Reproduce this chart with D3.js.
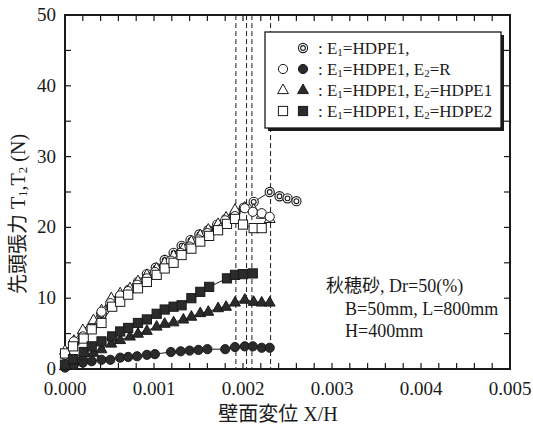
<!DOCTYPE html>
<html><head><meta charset="utf-8">
<script src="https://cdn.jsdelivr.net/npm/d3@7"></script>
<style>
body{margin:0;background:#fff}
svg{display:block}
text{font-family:"Liberation Serif","Times New Roman","Noto Sans CJK JP",serif;fill:#1a1a1a}
</style>
</head><body>
<svg id="chart" width="533" height="426"></svg>
<script>
// Axis ticks
const xMajorTicks = [0, 0.001, 0.002, 0.003, 0.004, 0.005];
const xTickLabels = ["0.000", "0.001", "0.002", "0.003", "0.004", "0.005"];
const xMinorTicks = [0.0002,0.0004,0.0006,0.0008,0.0012,0.0014,0.0016,0.0018,0.0022,0.0024,0.0026,0.0028,0.0032,0.0034,0.0036,0.0038,0.0042,0.0044,0.0046,0.0048];
const yMajorTicks = [0, 10, 20, 30, 40, 50];
const yMinorTicks = [5, 15, 25, 35, 45];

// E1=HDPE1 alone (T1)
const xSingle = [0,0.0001,0.0002,0.00031,0.00041,0.00051,0.00062,0.00072,0.00082,0.00092,0.00102,0.00112,0.00122,0.00131,0.00141,0.00151,0.00161,0.00171,0.00181,0.00191,0.00201,0.00212,0.0023,0.00241,0.0025,0.0026];
const tSingle = [2.0,3.6,5.0,6.2,7.6,9.0,10.3,11.2,12.3,13.4,14.3,15.4,16.4,17.4,18.2,19.0,19.6,20.4,21.2,22.0,22.8,23.6,25.0,24.4,24.1,23.7];

// E1=HDPE1, E2=R
const xR  = [0,0.0001,0.0002,0.0003,0.00041,0.00051,0.00062,0.00071,0.00081,0.00092,0.00101,0.00119,0.0013,0.0014,0.0015,0.0016,0.0018,0.00191,0.00202,0.00211,0.00221,0.0023];
const t1R = [2.0,3.9,4.6,5.7,8.1,9.3,10.4,11.0,11.9,12.8,13.7,15.3,16.4,17.3,18.3,19.2,21.0,21.6,22.7,22.2,22.0,21.5];
const t2R = [0.2,0.6,0.9,1.1,1.3,1.3,1.6,1.7,1.8,2.0,2.1,2.4,2.5,2.6,2.7,2.8,2.8,3.1,3.2,3.2,3.0,3.0];

// E1=HDPE1, E2=HDPE1
const xH1  = [0,0.0001,0.0002,0.00032,0.00041,0.00052,0.00062,0.00073,0.00082,0.00092,0.00103,0.00112,0.00122,0.00133,0.00142,0.00152,0.00161,0.00172,0.00181,0.00191,0.00202,0.00212,0.00221,0.0023];
const t1H1 = [2.6,4.0,5.5,6.9,8.3,10.0,10.7,11.4,12.4,13.3,14.2,15.0,16.0,17.0,18.0,18.9,19.7,20.5,21.4,22.5,22.8,22.5,21.8,21.2];
const t2H1 = [0.4,1.2,1.8,2.3,2.8,3.6,4.1,4.6,5.0,5.4,6.0,6.4,6.6,7.0,7.4,7.9,8.1,8.6,8.8,9.4,9.8,9.5,9.4,9.4];

// E1=HDPE1, E2=HDPE2
const xH2a = [0,0.00009,0.00021,0.0003,0.00041,0.00053,0.00062,0.00071,0.00082,0.00092,0.00103,0.00112,0.00122,0.00131,0.00142,0.00152,0.00162,0.00172,0.00182,0.00191,0.002,0.00212,0.00221];
const t1H2 = [2.2,3.2,4.3,5.6,6.5,8.8,9.5,10.5,11.4,12.3,13.3,14.2,15.0,16.1,17.0,18.0,18.8,19.6,20.5,21.2,20.4,19.9,19.9];
const xH2b = [0,0.00009,0.00021,0.0003,0.00041,0.00053,0.00062,0.00071,0.00082,0.00092,0.00103,0.00112,0.00122,0.00131,0.00142,0.00152,0.00162,0.00182,0.00191,0.002,0.00211];
const t2H2 = [0.6,1.4,2.4,3.2,3.9,4.6,5.3,5.8,6.5,7.0,7.8,8.4,8.8,9.0,10.0,10.9,11.6,12.8,13.3,13.4,13.5];

// Peak displacement markers
const peakX = [0.00192, 0.00204, 0.0021, 0.00231];

// legend pieces: odd entries are subscripts
const legendLabels = [
  [": E", "1", "=HDPE1,"],
  [": E", "1", "=HDPE1, E", "2", "=R"],
  [": E", "1", "=HDPE1, E", "2", "=HDPE1"],
  [": E", "1", "=HDPE1, E", "2", "=HDPE2"]
];
const yTitleParts = ["先頭張力 T", "1", ",T", "2", " (N)"];
const noteLines = ["秋穂砂, Dr=50(%)", "B=50mm, L=800mm", "H=400mm"];

const svg = d3.select("#chart");
const plotL = 65, plotR = 510, plotT = 15, plotB = 369;
const x = d3.scaleLinear().domain([0, 0.005]).range([plotL, plotR]);
const y = d3.scaleLinear().domain([0, 50]).range([plotB, plotT]);
const ink = "#1a1a1a";

// peak dashed lines
svg.append("g").selectAll("line").data(peakX).join("line")
  .attr("x1", d => x(d)).attr("x2", d => x(d))
  .attr("y1", plotT).attr("y2", plotB)
  .attr("stroke", ink).attr("stroke-width", 1).attr("stroke-dasharray", "5,3");

// ticks (inward on all four sides)
const tk = 6;
const tg = svg.append("g").attr("stroke", ink).attr("stroke-width", 1.2);
[...xMajorTicks, ...xMinorTicks].forEach(v => {
  tg.append("line").attr("x1", x(v)).attr("x2", x(v)).attr("y1", plotB).attr("y2", plotB - tk);
  tg.append("line").attr("x1", x(v)).attr("x2", x(v)).attr("y1", plotT).attr("y2", plotT + tk);
});
[...yMajorTicks, ...yMinorTicks].forEach(v => {
  tg.append("line").attr("y1", y(v)).attr("y2", y(v)).attr("x1", plotL).attr("x2", plotL + tk);
  tg.append("line").attr("y1", y(v)).attr("y2", y(v)).attr("x1", plotR).attr("x2", plotR - tk);
});

// frame
svg.append("rect").attr("x", plotL).attr("y", plotT).attr("width", plotR - plotL).attr("height", plotB - plotT)
  .attr("fill", "none").attr("stroke", ink).attr("stroke-width", 2);

// tick labels
svg.append("g").selectAll("text").data(xMajorTicks).join("text")
  .attr("x", d => x(d)).attr("y", plotB + 26).attr("text-anchor", "middle")
  .attr("font-size", 19).text((d, i) => xTickLabels[i]);
svg.append("g").selectAll("text").data(yMajorTicks).join("text")
  .attr("x", plotL - 9).attr("y", d => y(d) + 6).attr("text-anchor", "end")
  .attr("font-size", 19).text(d => d);

// text with lowered subscripts at odd positions
function subText(t, parts, subSize, drop) {
  parts.forEach((s, j) => {
    const sp = t.append("tspan").text(s);
    if (j % 2 === 1) sp.attr("font-size", subSize).attr("dy", drop);
    else if (j > 0) sp.attr("dy", -drop);
  });
}

// axis titles
svg.append("text").attr("x", 278).attr("y", 421).attr("text-anchor", "middle")
  .attr("font-size", 20).text("壁面変位 X/H");
const yt = svg.append("text").attr("transform", "translate(25,214) rotate(-90)")
  .attr("text-anchor", "middle").attr("font-size", 20);
subText(yt, yTitleParts, 13, 2);

// marker shapes
function marker(g, kind, filled) {
  const fill = filled ? "#2b2b2b" : "#fff";
  if (kind === "circle") {
    g.append("circle").attr("r", 4.6).attr("fill", fill).attr("stroke", ink).attr("stroke-width", 1);
  } else if (kind === "square") {
    g.append("rect").attr("x", -4.6).attr("y", -4.6).attr("width", 9.2).attr("height", 9.2)
      .attr("fill", fill).attr("stroke", ink).attr("stroke-width", 1);
  } else if (kind === "triangle") {
    g.append("path").attr("d", "M0,-6L5.4,3.6L-5.4,3.6Z").attr("fill", fill).attr("stroke", ink).attr("stroke-width", 1);
  } else if (kind === "double") {
    g.append("circle").attr("r", 4.6).attr("fill", "#fff").attr("stroke", ink).attr("stroke-width", 1.1);
    g.append("circle").attr("r", 2.4).attr("fill", "#fff").attr("stroke", ink).attr("stroke-width", 1.1);
  }
}

const line = d3.line().x(d => x(d[0])).y(d => y(d[1]));
function series(xs, ys, kind, filled) {
  const pts = xs.map((v, i) => [v, ys[i]]);
  const g = svg.append("g");
  g.append("path").attr("d", line(pts)).attr("fill", "none").attr("stroke", ink).attr("stroke-width", 1);
  g.selectAll("g").data(pts).join("g")
    .attr("transform", d => `translate(${x(d[0])},${y(d[1])})`)
    .each(function () { marker(d3.select(this), kind, filled); });
}

series(xSingle, tSingle, "double", false);
series(xH1, t1H1, "triangle", false);
series(xR, t1R, "circle", false);
series(xH2a, t1H2, "square", false);
series(xR, t2R, "circle", true);
series(xH1, t2H1, "triangle", true);
series(xH2b, t2H2, "square", true);

// legend
const lg = svg.append("g");
lg.append("rect").attr("x", 268).attr("y", 35).attr("width", 236).attr("height", 96).attr("fill", ink);
lg.append("rect").attr("x", 265).attr("y", 32).attr("width", 236).attr("height", 96)
  .attr("fill", "#fff").attr("stroke", ink).attr("stroke-width", 1.3);
const rowY = [48, 69, 90, 111];
const legendKinds = [null, "circle", "triangle", "square"];
rowY.forEach((ry, i) => {
  if (i === 0) {
    marker(lg.append("g").attr("transform", `translate(303,${ry})`), "double", false);
  } else {
    marker(lg.append("g").attr("transform", `translate(283,${ry})`), legendKinds[i], false);
    marker(lg.append("g").attr("transform", `translate(303,${ry})`), legendKinds[i], true);
  }
  const t = lg.append("text").attr("x", 318).attr("y", ry + 6).attr("font-size", 17);
  subText(t, legendLabels[i], 11, 2);
});

// test conditions
svg.append("text").attr("x", 326).attr("y", 292).attr("font-size", 18).text(noteLines[0]);
svg.append("text").attr("x", 345).attr("y", 315).attr("font-size", 18).text(noteLines[1]);
svg.append("text").attr("x", 345).attr("y", 337).attr("font-size", 18).text(noteLines[2]);
</script>
</body></html>
